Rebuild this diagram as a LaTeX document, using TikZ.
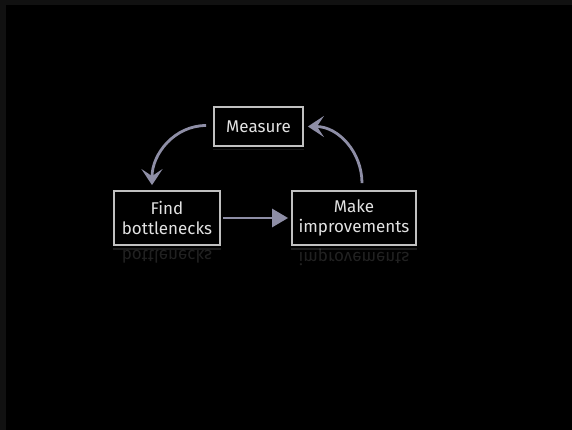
\documentclass[tikz,border=0pt]{standalone}
\usepackage{fontspec}
\setmainfont{Fira Sans}
\usepackage{tikz}
\usetikzlibrary{arrows.meta,calc,positioning}
\definecolor{frameGray}{HTML}{111111}
\definecolor{chalkWhite}{HTML}{E2E2E2}
\definecolor{chalkLilac}{HTML}{8E8EA6}

\tikzset{
  chalkbox/.style={draw=chalkWhite!85!black,line width=1.8pt,fill=black,text=chalkWhite,
    font=\fontsize{17}{20}\selectfont,align=center,inner sep=0pt},
  mirror/.style={text=chalkWhite,opacity=0.15,yscale=-1,font=\fontsize{17}{20}\selectfont,inner sep=0pt},
  loop arrow/.style={chalkLilac,line width=2.8pt,-{Stealth[length=16pt,width=21pt,inset=7pt]}},
  push arrow/.style={chalkLilac,line width=2.8pt,-{Triangle[length=16pt,width=18pt]}}
}

\begin{document}
\begin{tikzpicture}[x=1pt,y=-1pt]
  \useasboundingbox (0,0) rectangle (572,430);
  \fill[frameGray] (0,0) rectangle (572,430);
  \fill[black] (6,5) rectangle (572,430);

  % the three steps
  \node[chalkbox,minimum width=89pt,minimum height=39pt] (measure) at (258.5,126.5) {Measure};
  \node[chalkbox,minimum width=106pt,minimum height=54pt] (find) at (167,218) {Find\\bottlenecks};
  \node[chalkbox,minimum width=124pt,minimum height=54pt] (make) at (354,218) {Make\\improvements};

  % faint reflections under the boxes
  \node[mirror] (findrefl) at ([yshift=-11pt]find.south) {bottlenecks};
  \node[mirror] (makerefl) at ([yshift=-11pt]make.south) {improvements};
  \draw[chalkWhite,opacity=0.12,line width=1.2pt] ([yshift=-3pt]find.south west) -- ([yshift=-3pt]find.south east);
  \draw[chalkWhite,opacity=0.12,line width=1.2pt] ([yshift=-3pt]make.south west) -- ([yshift=-3pt]make.south east);
  \draw[chalkWhite,opacity=0.1,line width=1.2pt] ([yshift=-3pt]measure.south west) -- ([yshift=-3pt]measure.south east);

  % cycle
  \draw[loop arrow] ([xshift=-7pt,yshift=1pt]measure.west) to[out=180,in=90] ([xshift=-15pt,yshift=5pt]find.north);
  \draw[push arrow] ([xshift=2pt]find.east) -- ([xshift=-3pt]make.west);
  \draw[loop arrow] ([xshift=8pt,yshift=7pt]make.north) to[out=90,in=0] ([xshift=4pt]measure.east);
\end{tikzpicture}
\end{document}
